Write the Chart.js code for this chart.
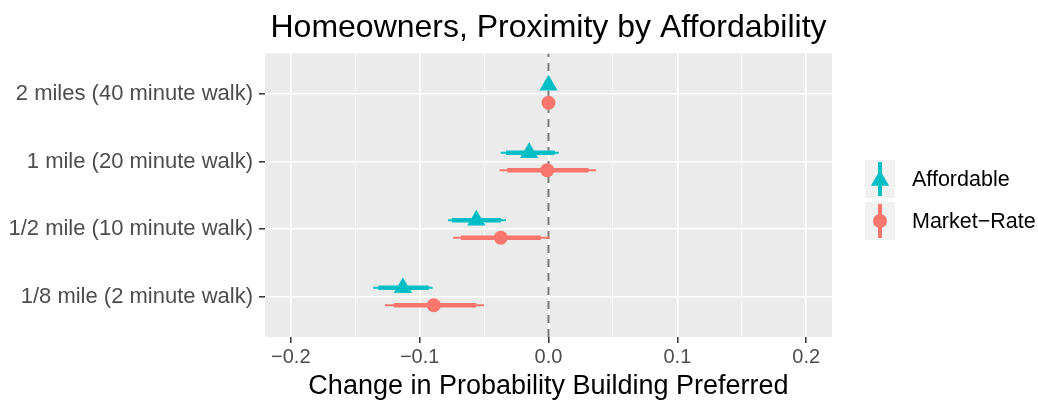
<!DOCTYPE html>
<html>
<head>
<meta charset="utf-8">
<script src="https://cdn.jsdelivr.net/npm/chart.js@4"></script>
<style>
  body { margin: 0; background: #fff; }
  #wrap { position: relative; width: 1038px; height: 400px; }
  #custom-legend {
    position: absolute; left: 865px; top: 160px;
    font-family: "Liberation Sans", Arial, sans-serif; font-size: 21.5px; color: #000;
  }
  .chart-legend-item { display: flex; align-items: center; height: 38px; margin-bottom: 4px; }
  .chart-legend-box { width: 30px; height: 38px; background: #F2F2F2; margin-right: 17px; }
  .chart-legend-box svg { display: block; }
</style>
</head>
<body>
<div id="wrap">
  <canvas id="myChart" width="1038" height="400"></canvas>
  <div id="custom-legend"></div>
</div>
<script>
const categories = ['1/8 mile (2 minute walk)', '1/2 mile (10 minute walk)', '1 mile (20 minute walk)', '2 miles (40 minute walk)'];

// Affordable: estimate, outer (thin) and inner (thick) intervals
const affordableEst = [-0.113, -0.056, -0.015, 0.000];
const affordableLoOuter = [-0.136, -0.078, -0.037, 0.000];
const affordableHiOuter = [-0.090, -0.033, 0.008, 0.000];
const affordableLoInner = [-0.132, -0.075, -0.033, 0.000];
const affordableHiInner = [-0.093, -0.037, 0.005, 0.000];

// Market-Rate
const marketEst = [-0.089, -0.037, -0.001, 0.000];
const marketLoOuter = [-0.127, -0.074, -0.038, 0.000];
const marketHiOuter = [-0.050, 0.001, 0.037, 0.000];
const marketLoInner = [-0.120, -0.068, -0.032, 0.000];
const marketHiInner = [-0.056, -0.006, 0.031, 0.000];

const xTicks = [-0.2, -0.1, 0.0, 0.1, 0.2];
const refLineX = 0;

const TEAL = '#00BFC4';
const SALMON = '#F8766D';
const FONT = '"Liberation Sans", Arial, sans-serif';
const dodge = 0.13;
const yMin = 0.4, yMax = 4.6;

function points(est, off) {
    return est.map((v, i) => ({ x: v, y: i + 1 + off }));
}

function segments(lo, hi, off) {
    const out = [];
    lo.forEach((v, i) => {
        out.push({ x: v, y: i + 1 + off }, { x: hi[i], y: i + 1 + off }, { x: null, y: null });
    });
    return out;
}

function isMajor(v) {
    return xTicks.some(t => Math.abs(t - v) < 1e-6);
}

const panelBg = {
    id: 'panelBg',
    beforeDraw(chart) {
        const { ctx, chartArea: a } = chart;
        ctx.save();
        ctx.fillStyle = '#EBEBEB';
        ctx.fillRect(a.left, a.top, a.right - a.left, a.bottom - a.top);
        ctx.restore();
    }
};

function lineSet(data, color, width, order) {
    return {
        data: data, showLine: true, borderColor: color, borderWidth: width,
        pointRadius: 0, spanGaps: false, tension: 0, order: order,
        borderCapStyle: 'butt'
    };
}

const ctx = document.getElementById('myChart').getContext('2d');

const chart = new Chart(ctx, {
    type: 'scatter',
    data: {
        datasets: [
            {
                label: 'zero',
                data: [{ x: refLineX, y: yMin }, { x: refLineX, y: yMax }],
                showLine: true, borderColor: '#7A7A7A', borderWidth: 2, borderDash: [8, 6],
                pointRadius: 0, order: 5
            },
            lineSet(segments(affordableLoOuter, affordableHiOuter, dodge), TEAL, 2, 4),
            lineSet(segments(marketLoOuter, marketHiOuter, -dodge), SALMON, 2, 4),
            lineSet(segments(affordableLoInner, affordableHiInner, dodge), TEAL, 4.5, 3),
            lineSet(segments(marketLoInner, marketHiInner, -dodge), SALMON, 4.5, 3),
            {
                label: 'Affordable',
                data: points(affordableEst, dodge),
                pointStyle: 'triangle', pointRadius: 10.5,
                backgroundColor: TEAL, borderWidth: 0, order: 1
            },
            {
                label: 'Market\u2212Rate',
                data: points(marketEst, -dodge),
                pointStyle: 'circle', pointRadius: 7,
                backgroundColor: SALMON, borderWidth: 0, order: 1
            }
        ]
    },
    options: {
        responsive: false,
        animation: false,
        events: [],
        layout: { padding: { left: 0, right: 206, top: 0, bottom: 0 } },
        plugins: {
            legend: { display: false },
            tooltip: { enabled: false },
            title: {
                display: true,
                text: 'Homeowners, Proximity by Affordability',
                fullSize: false,
                color: '#000',
                font: { family: FONT, size: 32, weight: 'normal', lineHeight: 1.2 },
                padding: { top: 9, bottom: 6 }
            }
        },
        scales: {
            x: {
                type: 'linear',
                min: -0.22, max: 0.22,
                border: { display: false },
                grid: {
                    color: '#FFFFFF',
                    lineWidth: c => isMajor(c.tick.value) ? 1.6 : 0.8,
                    tickColor: c => isMajor(c.tick.value) ? '#333333' : 'rgba(0,0,0,0)',
                    tickWidth: 1.5,
                    tickLength: 6
                },
                ticks: {
                    stepSize: 0.05,
                    includeBounds: false,
                    autoSkip: false,
                    maxRotation: 0,
                    padding: 2,
                    color: '#4D4D4D',
                    font: { family: FONT, size: 20 },
                    callback: function(value) {
                        if (!isMajor(value)) return '';
                        const k = Math.round(value * 10);
                        return (k < 0 ? '\u2212' : '') + Math.abs(k / 10).toFixed(1);
                    }
                },
                title: {
                    display: true,
                    text: 'Change in Probability Building Preferred',
                    color: '#000',
                    font: { family: FONT, size: 27, lineHeight: 1.0 },
                    padding: { top: 0, bottom: 0 }
                },
                afterFit: s => { s.height = 63; }
            },
            y: {
                type: 'linear',
                min: yMin, max: yMax,
                border: { display: false },
                grid: {
                    color: '#FFFFFF',
                    lineWidth: 1.6,
                    tickColor: '#333333',
                    tickWidth: 1.5,
                    tickLength: 6
                },
                ticks: {
                    stepSize: 1,
                    includeBounds: false,
                    autoSkip: false,
                    padding: 6,
                    color: '#4D4D4D',
                    font: { family: FONT, size: 22 },
                    callback: function(value) {
                        return categories[Math.round(value) - 1] || '';
                    }
                },
                afterFit: s => { s.width = 265; }
            }
        }
    },
    plugins: [panelBg]
});

// legend keys drawn like the ggplot ones
function createCustomLegend() {
    const legendContainer = document.getElementById('custom-legend');
    const items = [
        { label: 'Affordable', color: TEAL, shape: '<polygon points="15,10 24.1,25.75 5.9,25.75" fill="' + TEAL + '"/>' },
        { label: 'Market\u2212Rate', color: SALMON, shape: '<circle cx="15" cy="19" r="7" fill="' + SALMON + '"/>' }
    ];
    items.forEach(item => {
        const legendItem = document.createElement('div');
        legendItem.className = 'chart-legend-item';
        const box = document.createElement('div');
        box.className = 'chart-legend-box';
        box.innerHTML = '<svg width="30" height="38"><rect x="13" y="2" width="4" height="34" fill="' + item.color + '"/>' + item.shape + '</svg>';
        const text = document.createElement('span');
        text.className = 'chart-legend-text';
        text.innerText = item.label;
        legendItem.appendChild(box);
        legendItem.appendChild(text);
        legendContainer.appendChild(legendItem);
    });
}

createCustomLegend();
</script>
</body>
</html>
